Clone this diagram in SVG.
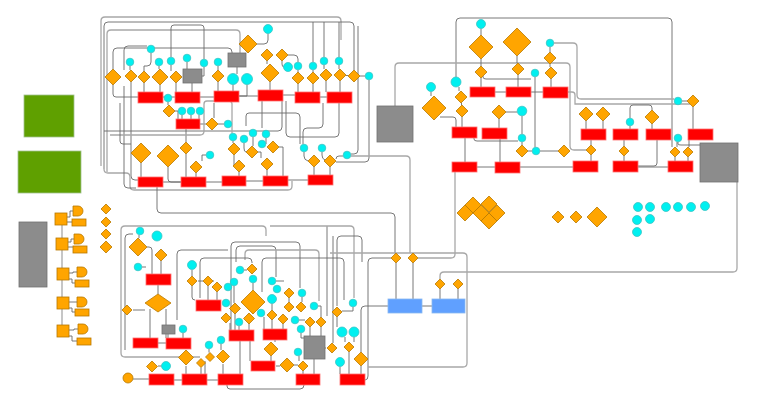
<svg xmlns="http://www.w3.org/2000/svg" width="764" height="406" viewBox="0 0 764 406">
<style>
.d{fill:#ffa500;stroke:#b87800;stroke-width:0.8}
.c{fill:#00f0f0;stroke:#3cc4c4;stroke-width:0.8}
.r{fill:#ff0000;stroke:#ff7070;stroke-width:0.8}
.g{fill:#8c8c8c;stroke:#707070;stroke-width:0.8}
.gr{fill:#5fa000;stroke:#a0c090;stroke-width:0.8}
.b{fill:#60a0ff;stroke:#8ab8f0;stroke-width:0.8}
.o{fill:#ffa500;stroke:#b87800;stroke-width:0.8}
.e{fill:none;stroke:#6a6a6a;stroke-width:0.9}
.f{fill:none;stroke:#a8a8a8;stroke-width:1.3}
</style>
<rect width="764" height="406" fill="#ffffff"/>
<g id="connectors">
<path class="f" d="M101,166 V21 Q101,17 105,17 H337 Q341,17 341,21 V40" stroke-width="2"/>
<path class="e" d="M104,169 V26 Q104,22 108,22 H350 Q354,22 354,26 V70"/>
<path class="f" d="M107,172 V34 Q107,30 111,30 H236 Q240,30 240,34 V53"/>
<path class="e" d="M113,69 V52 Q113,48 117,48 H228 Q232,48 232,52 V53"/>
<path class="e" d="M124,70 V50 Q124,46 128,46 H147"/>
<path class="e" d="M171,57 V28 Q171,25 174,25 H201 Q204,25 204,28 V59"/>
<path class="e" d="M151,53 V62 Q151,66 147,66 H144 V71"/>
<path class="e" d="M130,66 V70 M159,66 V69 M171,65 V71 M187,62 V69 M204,67 V76 H202 M218,66 V70 M237,67 V74"/>
<path class="e" d="M268,33.5 V40 Q268,44 264,44 H257 M267,61 V64 M282,61 V64 Q282,67 284,67"/>
<path class="e" d="M113,85 V94 Q113,97 116,97 H138 M131,82 V176 Q131,180 135,180 H138"/>
<path class="e" d="M144,83 V92 M160,85 V92 M176,83 V92 M192,83 V92 M218,82 V91 M233,84.5 V91 M247,84.5 V96 H239 M270,82 V90"/>
<path class="e" d="M298,84 V92 M313,84 V92 M326,81 V92 M340,81 V92 M346,75.5 H348 M360,76 H365"/>
<path class="e" d="M298,70 V72 M313,70 V72 M324,65 V69 M339,65 V69 M313,62 V22 M324,57 V22 M339,57 V22 M298,62 V59 Q298,55 294,55 H288"/>
<path class="e" d="M163,97 H175 M200,97 H214 M239,96 H258 M320,97 H327 M282,95 H295"/>
<path class="e" d="M168,102 V105 M175,111 H178 V119 M182,115 V119 M191,115 V119 M199,115 V119 M206,124 H200 M224,124 H218"/>
<path class="e" d="M186,129 V142 M186,154 V177 M141,163 V177 M168,167 V179 Q168,182 171,182 H181 M196,173 V177 M206,155 H202 V161"/>
<path class="e" d="M233,141 V143 M234,155 V166 M239,172 V176 M253,137 V146 M244,143 V148 Q244,152 246,152 M266,138 V144 M258,152 H261 V158 M267,170 V176 M279,147 H283 V176"/>
<path class="e" d="M163,182 H181 M206,182 H222 M246,181 H263 M288,180 H308"/>
<path class="e" d="M314,167 V175 M330,167 V175 M304,152 V156 Q304,160 308,161 M322,152 V155 Q322,159 325,160 M343,156 H339 Q336,156 336,159"/>
<path class="e" d="M323,103 V124 Q323,128 319,128 H307 Q303,128 303,132 V144"/>
<path class="e" d="M339,103 V133 Q339,137 335,137 H290 Q286,137 286,133 V101"/>
<path class="e" d="M358,26 V150 Q358,154 354,154 H351"/>
<path class="e" d="M369,80 V158 Q369,162 365,162 H336"/>
<path class="f" d="M104,169 Q104,173 108,173 H126 Q130,173 130,177 V186 Q130,190 134,190 H288 Q292,190 292,186 V181"/>
<path class="e" d="M124,86 V184 Q124,188 128,188 H136"/>
<path class="e" d="M104,131 H278 Q282,131 282,127 V101"/>
<path class="f" d="M110,135 H200 Q204,135 204,131 V104 Q204,101 207,101 H228 Q232,101 232,104 V133"/>
<path class="e" d="M120,103 V141 Q120,144 123,144 H131"/>
<path class="e" d="M214,103 V118 M262,101 V128"/>
<path class="e" d="M246,126 V116 Q246,113 249,113 H296 Q300,113 300,117 V144"/>
<path class="e" d="M157,187 V209 Q157,213 161,213 H391 Q395,213 395,217 V253"/>
<path class="f" d="M351,156 H406 Q410,156 410,160 V253"/>
<path class="e" d="M456,77 V22 Q456,18 460,18 H668 Q672,18 672,22 V147"/>
<path class="f" d="M395,106 V67 Q395,63 399,63 H566 Q570,63 570,67 V146 Q570,150 574,150 H586"/>
<path class="f" d="M554,43 H573 Q577,43 577,47 V95 Q577,99 581,99 H674"/>
<path class="f" d="M568,92 H572 Q575,92 575,95 V104 H690"/>
<path class="e" d="M440,117 H453 Q456,117 456,120 V127"/>
<path class="e" d="M459,87 V91 M461.5,103 V105 M462,117 V127 M465,138 V162 M500,139 V162 M499,119 V128 M506,112 H517 M522,116 V134"/>
<path class="e" d="M474,138 V139 Q474,141 477,141 H518 M522,142 V145 M528,151 H532 M540,151 H558 M535,77 V147"/>
<path class="e" d="M483,76 V77 Q483,79 486,79 H531"/>
<path class="e" d="M481,28.5 V35 M481,59 V66 M481,78 V87 M517,56 V63 M518,75 V87 M550,47 V52 M550,64 V67 M551,79 V87 M431,91.5 V96"/>
<path class="e" d="M495,92 H506 M531,92 H543 M477,167 H495 M520,167 H573"/>
<path class="f" d="M455,172 V254 Q455,258 451,258 H418"/>
<path class="e" d="M586,121 V129 M603,121 V129 M630,126 V129 M630,118 V108 Q630,105 633,105 H649 Q652,105 652,108 V110 M652,124 V129"/>
<path class="e" d="M682,101 H687 M693,107 V129 M591,140 V145 M591,155 V161 M624,140 V146 M624,156 V161"/>
<path class="e" d="M657,140 V163 Q657,166 654,166 H638 M638,167 H668 M677,142 V147 M675,157 V161 M688,157 V161 M689,140 V147 M678,142 V144 Q678,145 681,145 H700"/>
<path class="f" d="M440,279 V276 Q440,272 444,272 H733 Q737,272 737,268 V182"/>
<path class="f" d="M200,357 H125 Q121,357 121,353 V230 Q121,226 125,226 H262 Q266,226 266,230 V236"/>
<path class="e" d="M125,350 V238 Q125,234 129,234 H133"/>
<path class="e" d="M231,330 V246 Q231,242 235,242 H296 Q300,242 300,246 V288"/>
<path class="e" d="M236,262 V250 Q236,246 240,246 H272 Q276,246 276,250 V277"/>
<path class="f" d="M245,260 V254 Q245,250 249,250 H315 Q319,250 319,254 V301"/>
<path class="e" d="M262,292 V262 Q262,258 266,258 H340 Q344,258 344,262 V300"/>
<path class="e" d="M177,320 V254 Q177,250 181,250 H228"/>
<path class="e" d="M200,298 V262 Q200,258 204,258 H248 Q252,258 252,262 V263"/>
<path class="e" d="M327,226 V316 M333,236 V343"/>
<path class="f" d="M270,226 H350 Q354,226 354,230 V298"/>
<path class="e" d="M337,306 V240 Q337,236 341,236 H358 Q362,236 362,240 V262"/>
<path class="e" d="M139,235 V238 M147,247 H149 Q152,247 152,250 V274 M142,267 H146 M161,261 V274 M158,285 V294 M150,309 V338 M166,309 V338 M133,310 H145"/>
<path class="e" d="M158,343 H166 M168,334 V338 M183,333 V338 M192,270 V276 M192,286 V297 Q192,300 195,300 M208,286 V300 M217,292 V300 M198,281 H203 M213,281 H214"/>
<path class="e" d="M235,313 V330 M230,323 V330 M249,323 V330 M239,326 V330 M253,314 V313 M244,270 H247 M253,283 V290 M234,286 V303"/>
<path class="e" d="M240,341 V374 M250,341 V361 M221,344 V350 M223,364 V374 M205,361 V374 M201,367.5 V374 M186,366 V374 M209,349 V352.5"/>
<path class="e" d="M158,366 H161.5 M133,379 H149 M174,380 H182 M207,380 H218 M276,366 H280 M294,365 H298 M271,356 V361 M275,340 V342"/>
<path class="e" d="M272,320 V329 M283,324 V329 M264,317 V329 M276,281 H284 M289,298 V302 M302,297 V302 M272,303.5 V310 M299,320 H305 M310,327 V336 M321,327 V336 M301,333 V338 H304 M318,306 H321 V317"/>
<path class="e" d="M325,348 H326 M299,356 V361 M303,371 V374 M314,359 V374 M353,307 V311 H342 M345,337 V342 M354,337 V342 M349,352 V374 M340,366.5 V374 M361,366 V374 M337,317 V327"/>
<path class="e" d="M227,374 V386 Q227,389 230,389 H300 Q304,389 304,385"/>
<path class="e" d="M391,258 H372 Q368,258 368,262 V376 Q368,380 365,380"/>
<path class="e" d="M388,306 H365 Q361,306 361,310 V352"/>
<path class="f" d="M330,253 H463 Q467,253 467,257 V363 Q467,367 463,367 H368"/>
<path class="e" d="M396,263 V299 M413,263 V299 M422,306 H432 M440,289 V299 M458,289 V299"/>
<path class="f" d="M62,225 V326"/>
<path class="e" d="M67,217 H70 V211 H73 M67,222 H72 M68,242 H71 V239 H74 M68,247 H73 M69,273 H73 V272 H77 M69,279 H72 V283 H75 M69,302 H74 V302 H77 M69,308 H72 V312 H75 M69,330 H74 V329 H78 M69,336 H72 V341 H77"/>
</g>
<g id="tl-d1"><path class="d" d="M113 69l8 8-8 8-8-8z"/></g>
<g id="tl-d2"><path class="d" d="M131 70l6 6-6 6-6-6z"/></g>
<g id="tl-d3"><path class="d" d="M144 71l6 6-6 6-6-6z"/></g>
<g id="tl-d4"><path class="d" d="M160 69l8 8-8 8-8-8z"/></g>
<g id="tl-d5"><path class="d" d="M176 71l6 6-6 6-6-6z"/></g>
<g id="tl-d6"><path class="d" d="M218 70l6 6-6 6-6-6z"/></g>
<g id="tl-d7"><path class="d" d="M248 35l9 9-9 9-9-9z"/></g>
<g id="tl-d8"><path class="d" d="M267 49l6 6-6 6-6-6z"/></g>
<g id="tl-d9"><path class="d" d="M282 49l6 6-6 6-6-6z"/></g>
<g id="tl-d10"><path class="d" d="M270 64l9 9-9 9-9-9z"/></g>
<g id="tl-d11"><path class="d" d="M298 72l6 6-6 6-6-6z"/></g>
<g id="tl-d12"><path class="d" d="M313 72l6 6-6 6-6-6z"/></g>
<g id="tl-d13"><path class="d" d="M326 69l6 6-6 6-6-6z"/></g>
<g id="tl-d14"><path class="d" d="M340 69l6 6-6 6-6-6z"/></g>
<g id="tl-d15"><path class="d" d="M354 70l6 6-6 6-6-6z"/></g>
<g id="tl-d16"><path class="d" d="M169 105l6 6-6 6-6-6z"/></g>
<g id="tl-d17"><path class="d" d="M212 118l6 6-6 6-6-6z"/></g>
<g id="tl-d18"><path class="d" d="M186 142l6 6-6 6-6-6z"/></g>
<g id="tl-d19"><path class="d" d="M234 143l6 6-6 6-6-6z"/></g>
<g id="tl-d20"><path class="d" d="M252 146l6 6-6 6-6-6z"/></g>
<g id="tl-d21"><path class="d" d="M273 141l6 6-6 6-6-6z"/></g>
<g id="tl-d22"><path class="d" d="M141 143l10 10-10 10-10-10z"/></g>
<g id="tl-d23"><path class="d" d="M168 145l11 11-11 11-11-11z"/></g>
<g id="tl-d24"><path class="d" d="M196 161l6 6-6 6-6-6z"/></g>
<g id="tl-d25"><path class="d" d="M239 160l6 6-6 6-6-6z"/></g>
<g id="tl-d26"><path class="d" d="M267 158l6 6-6 6-6-6z"/></g>
<g id="tl-d27"><path class="d" d="M314 155l6 6-6 6-6-6z"/></g>
<g id="tl-d28"><path class="d" d="M330 155l6 6-6 6-6-6z"/></g>
<g id="tl-c1"><circle class="c" cx="151" cy="49" r="3.8"/></g>
<g id="tl-c2"><circle class="c" cx="130" cy="62" r="3.8"/></g>
<g id="tl-c3"><circle class="c" cx="159" cy="62" r="3.8"/></g>
<g id="tl-c4"><circle class="c" cx="171" cy="61" r="3.8"/></g>
<g id="tl-c5"><circle class="c" cx="187" cy="58" r="3.8"/></g>
<g id="tl-c6"><circle class="c" cx="204" cy="63" r="3.8"/></g>
<g id="tl-c7"><circle class="c" cx="218" cy="62" r="3.8"/></g>
<g id="tl-c8"><circle class="c" cx="233" cy="79" r="5.5"/></g>
<g id="tl-c9"><circle class="c" cx="247" cy="79" r="5.5"/></g>
<g id="tl-c10"><circle class="c" cx="268" cy="29" r="4.5"/></g>
<g id="tl-c11"><circle class="c" cx="288" cy="67" r="4.5"/></g>
<g id="tl-c12"><circle class="c" cx="298" cy="66" r="3.8"/></g>
<g id="tl-c13"><circle class="c" cx="313" cy="66" r="3.8"/></g>
<g id="tl-c14"><circle class="c" cx="324" cy="61" r="3.8"/></g>
<g id="tl-c15"><circle class="c" cx="339" cy="61" r="3.8"/></g>
<g id="tl-c16"><circle class="c" cx="369" cy="76" r="3.8"/></g>
<g id="tl-c17"><circle class="c" cx="168" cy="98" r="3.8"/></g>
<g id="tl-c18"><circle class="c" cx="182" cy="111" r="3.8"/></g>
<g id="tl-c19"><circle class="c" cx="191" cy="111" r="3.8"/></g>
<g id="tl-c20"><circle class="c" cx="200" cy="111" r="3.8"/></g>
<g id="tl-c21"><circle class="c" cx="228" cy="124" r="3.8"/></g>
<g id="tl-c22"><circle class="c" cx="233" cy="137" r="3.8"/></g>
<g id="tl-c23"><circle class="c" cx="244" cy="139" r="3.8"/></g>
<g id="tl-c24"><circle class="c" cx="253" cy="133" r="3.8"/></g>
<g id="tl-c25"><circle class="c" cx="266" cy="134" r="3.8"/></g>
<g id="tl-c26"><circle class="c" cx="262" cy="144" r="3.8"/></g>
<g id="tl-c27"><circle class="c" cx="210" cy="155" r="3.8"/></g>
<g id="tl-c28"><circle class="c" cx="304" cy="148" r="3.8"/></g>
<g id="tl-c29"><circle class="c" cx="322" cy="148" r="3.8"/></g>
<g id="tl-c30"><circle class="c" cx="347" cy="155" r="3.8"/></g>
<g id="tl-g1"><rect class="g" x="183" y="69" width="19" height="14"/></g>
<g id="tl-g2"><rect class="g" x="228" y="53" width="18" height="14"/></g>
<g id="tl-r1"><rect class="r" x="138" y="92" width="25" height="11"/></g>
<g id="tl-r2"><rect class="r" x="175" y="92" width="25" height="11"/></g>
<g id="tl-r3"><rect class="r" x="214" y="91" width="25" height="11"/></g>
<g id="tl-r4"><rect class="r" x="258" y="90" width="25" height="11"/></g>
<g id="tl-r5"><rect class="r" x="295" y="92" width="25" height="11"/></g>
<g id="tl-r6"><rect class="r" x="327" y="92" width="25" height="11"/></g>
<g id="tl-r7"><rect class="r" x="176" y="119" width="24" height="10"/></g>
<g id="tl-r8"><rect class="r" x="138" y="177" width="25" height="10"/></g>
<g id="tl-r9"><rect class="r" x="181" y="177" width="25" height="10"/></g>
<g id="tl-r10"><rect class="r" x="222" y="176" width="24" height="10"/></g>
<g id="tl-r11"><rect class="r" x="263" y="176" width="25" height="10"/></g>
<g id="tl-r12"><rect class="r" x="308" y="175" width="25" height="10"/></g>
<g id="tr-g3"><rect class="g" x="377" y="106" width="36" height="36"/></g>
<g id="tr-d29"><path class="d" d="M434 96l12 12-12 12-12-12z"/></g>
<g id="tr-d30"><path class="d" d="M481 35l12 12-12 12-12-12z"/></g>
<g id="tr-d31"><path class="d" d="M517 28l14 14-14 14-14-14z"/></g>
<g id="tr-d32"><path class="d" d="M550 52l6 6-6 6-6-6z"/></g>
<g id="tr-d33"><path class="d" d="M551 67l6 6-6 6-6-6z"/></g>
<g id="tr-d34"><path class="d" d="M481 66l6 6-6 6-6-6z"/></g>
<g id="tr-d35"><path class="d" d="M518 63l6 6-6 6-6-6z"/></g>
<g id="tr-d36"><path class="d" d="M461 91l6 6-6 6-6-6z"/></g>
<g id="tr-d37"><path class="d" d="M462 105l6 6-6 6-6-6z"/></g>
<g id="tr-d38"><path class="d" d="M499 105l7 7-7 7-7-7z"/></g>
<g id="tr-d39"><path class="d" d="M522 145l6 6-6 6-6-6z"/></g>
<g id="tr-d40"><path class="d" d="M564 145l6 6-6 6-6-6z"/></g>
<g id="tr-d41"><path class="d" d="M693 95l6 6-6 6-6-6z"/></g>
<g id="tr-d42"><path class="d" d="M586 107l7 7-7 7-7-7z"/></g>
<g id="tr-d43"><path class="d" d="M603 107l7 7-7 7-7-7z"/></g>
<g id="tr-d44"><path class="d" d="M652 110l7 7-7 7-7-7z"/></g>
<g id="tr-d45"><path class="d" d="M591 145l5 5-5 5-5-5z"/></g>
<g id="tr-d46"><path class="d" d="M624 146l5 5-5 5-5-5z"/></g>
<g id="tr-d47"><path class="d" d="M675 147l5 5-5 5-5-5z"/></g>
<g id="tr-d48"><path class="d" d="M688 147l5 5-5 5-5-5z"/></g>
<g id="tr-c31"><circle class="c" cx="481" cy="24" r="4.5"/></g>
<g id="tr-c32"><circle class="c" cx="550" cy="43" r="3.8"/></g>
<g id="tr-c33"><circle class="c" cx="535" cy="73" r="3.8"/></g>
<g id="tr-c34"><circle class="c" cx="431" cy="87" r="4.5"/></g>
<g id="tr-c35"><circle class="c" cx="456" cy="82" r="5"/></g>
<g id="tr-c36"><circle class="c" cx="522" cy="111" r="4.8"/></g>
<g id="tr-c37"><circle class="c" cx="522" cy="138" r="3.8"/></g>
<g id="tr-c38"><circle class="c" cx="536" cy="151" r="3.8"/></g>
<g id="tr-c39"><circle class="c" cx="678" cy="101" r="3.8"/></g>
<g id="tr-c40"><circle class="c" cx="630" cy="122" r="3.8"/></g>
<g id="tr-c41"><circle class="c" cx="678" cy="138" r="3.8"/></g>
<g id="tr-r13"><rect class="r" x="470" y="87" width="25" height="10"/></g>
<g id="tr-r14"><rect class="r" x="506" y="87" width="25" height="10"/></g>
<g id="tr-r15"><rect class="r" x="543" y="87" width="25" height="11"/></g>
<g id="tr-r16"><rect class="r" x="452" y="127" width="25" height="11"/></g>
<g id="tr-r17"><rect class="r" x="482" y="128" width="25" height="11"/></g>
<g id="tr-r18"><rect class="r" x="452" y="162" width="25" height="10"/></g>
<g id="tr-r19"><rect class="r" x="495" y="162" width="25" height="11"/></g>
<g id="tr-r20"><rect class="r" x="573" y="161" width="25" height="11"/></g>
<g id="tr-r21"><rect class="r" x="581" y="129" width="25" height="11"/></g>
<g id="tr-r22"><rect class="r" x="613" y="129" width="25" height="11"/></g>
<g id="tr-r23"><rect class="r" x="646" y="129" width="25" height="11"/></g>
<g id="tr-r24"><rect class="r" x="688" y="129" width="25" height="11"/></g>
<g id="tr-r25"><rect class="r" x="613" y="161" width="25" height="11"/></g>
<g id="tr-r26"><rect class="r" x="668" y="161" width="25" height="11"/></g>
<g id="tr-g4"><rect class="g" x="700" y="143" width="38" height="39"/></g>
<g id="m-d1"><path class="d" d="M473 197l8 8-8 8-8-8z"/></g>
<g id="m-d2"><path class="d" d="M489 196l8 8-8 8-8-8z"/></g>
<g id="m-d3"><path class="d" d="M465 205l8 8-8 8-8-8z"/></g>
<g id="m-d4"><path class="d" d="M481 205l8 8-8 8-8-8z"/></g>
<g id="m-d5"><path class="d" d="M497 205l8 8-8 8-8-8z"/></g>
<g id="m-d6"><path class="d" d="M489 213l8 8-8 8-8-8z"/></g>
<g id="m-d7"><path class="d" d="M558 211l6 6-6 6-6-6z"/></g>
<g id="m-d8"><path class="d" d="M576 211l6 6-6 6-6-6z"/></g>
<g id="m-d9"><path class="d" d="M597 207l10 10-10 10-10-10z"/></g>
<g id="m-c1"><circle class="c" cx="638" cy="207" r="4.5"/></g>
<g id="m-c2"><circle class="c" cx="650" cy="207" r="4.5"/></g>
<g id="m-c3"><circle class="c" cx="666" cy="207" r="4.5"/></g>
<g id="m-c4"><circle class="c" cx="678" cy="207" r="4.5"/></g>
<g id="m-c5"><circle class="c" cx="691" cy="207" r="4.5"/></g>
<g id="m-c6"><circle class="c" cx="705" cy="206" r="4.5"/></g>
<g id="m-c7"><circle class="c" cx="637" cy="220" r="4.5"/></g>
<g id="m-c8"><circle class="c" cx="650" cy="219" r="4.5"/></g>
<g id="m-c9"><circle class="c" cx="637" cy="232" r="4.5"/></g>
<g id="l-green1"><rect class="gr" x="24" y="95" width="50" height="42"/></g>
<g id="l-green2"><rect class="gr" x="18" y="151" width="63" height="42"/></g>
<g id="l-gray"><rect class="g" x="19" y="222" width="28" height="65" fill="#909090"/></g>
<g id="l-d1"><path class="d" d="M106 204l5 5-5 5-5-5z"/></g>
<g id="l-d2"><path class="d" d="M106 217l5 5-5 5-5-5z"/></g>
<g id="l-d3"><path class="d" d="M106 229l5 5-5 5-5-5z"/></g>
<g id="l-d4"><path class="d" d="M106 241l6 6-6 6-6-6z"/></g>
<g id="l-s1"><rect class="o" x="55" y="213" width="12" height="12"/><path class="o" d="M73 206h5a5 5 0 0 1 0 10h-5z"/><rect class="o" x="72" y="219" width="14" height="7"/></g>
<g id="l-s2"><rect class="o" x="56" y="238" width="12" height="12"/><path class="o" d="M74 234h5a5 5 0 0 1 0 10h-5z"/><rect class="o" x="73" y="246" width="14" height="7"/></g>
<g id="l-s3"><rect class="o" x="57" y="268" width="12" height="12"/><path class="o" d="M77 267h5a5 5 0 0 1 0 10h-5z"/><rect class="o" x="75" y="280" width="14" height="7"/></g>
<g id="l-s4"><rect class="o" x="57" y="297" width="12" height="12"/><path class="o" d="M77 297h5a5 5 0 0 1 0 10h-5z"/><rect class="o" x="75" y="309" width="14" height="7"/></g>
<g id="l-s5"><rect class="o" x="57" y="325" width="12" height="12"/><path class="o" d="M78 324h5a5 5 0 0 1 0 10h-5z"/><rect class="o" x="77" y="338" width="14" height="7"/></g>
<g id="bl-d1"><path class="d" d="M138 238l9 9-9 9-9-9z"/></g>
<g id="bl-d2"><path class="d" d="M161 249l6 6-6 6-6-6z"/></g>
<g id="bl-d3"><path class="d" d="M192 276l5 5-5 5-5-5z"/></g>
<g id="bl-d4"><path class="d" d="M208 276l5 5-5 5-5-5z"/></g>
<g id="bl-d5"><path class="d" d="M217 282l5 5-5 5-5-5z"/></g>
<g id="bl-d6"><path class="d" d="M158 294l13 9-13 9-13-9z"/></g>
<g id="bl-d7"><path class="d" d="M127 305l5 5-5 5-5-5z"/></g>
<g id="bl-d8"><path class="d" d="M252 264l5 5-5 5-5-5z"/></g>
<g id="bl-d9"><path class="d" d="M235 303l5.5 5.5-5.5 5.5-5.5-5.5z"/></g>
<g id="bl-d10"><path class="d" d="M226 313l5 5-5 5-5-5z"/></g>
<g id="bl-d11"><path class="d" d="M249 313l5.5 5.5-5.5 5.5-5.5-5.5z"/></g>
<g id="bl-d12"><path class="d" d="M253 290l12 12-12 12-12-12z"/></g>
<g id="bl-d13"><path class="d" d="M186 350l7.5 7.5-7.5 7.5-7.5-7.5z"/></g>
<g id="bl-d14"><path class="d" d="M201 358.5l4.5 4.5-4.5 4.5-4.5-4.5z"/></g>
<g id="bl-d15"><path class="d" d="M210 352.5l4.5 4.5-4.5 4.5-4.5-4.5z"/></g>
<g id="bl-d16"><path class="d" d="M223 350l6.5 6.5-6.5 6.5-6.5-6.5z"/></g>
<g id="bl-d17"><path class="d" d="M152 361l5.5 5.5-5.5 5.5-5.5-5.5z"/></g>
<g id="bl-d18"><path class="d" d="M289 288l5 5-5 5-5-5z"/></g>
<g id="bl-d19"><path class="d" d="M289 302l5 5-5 5-5-5z"/></g>
<g id="bl-d20"><path class="d" d="M301 302l5 5-5 5-5-5z"/></g>
<g id="bl-d21"><path class="d" d="M272 310l5 5-5 5-5-5z"/></g>
<g id="bl-d22"><path class="d" d="M283 314l5 5-5 5-5-5z"/></g>
<g id="bl-d23"><path class="d" d="M310 317l5 5-5 5-5-5z"/></g>
<g id="bl-d24"><path class="d" d="M321 317l5 5-5 5-5-5z"/></g>
<g id="bl-d25"><path class="d" d="M271 342l7 7-7 7-7-7z"/></g>
<g id="bl-d26"><path class="d" d="M287 358l7 7-7 7-7-7z"/></g>
<g id="bl-d27"><path class="d" d="M303 361l5 5-5 5-5-5z"/></g>
<g id="bl-d28"><path class="d" d="M332 343l5 5-5 5-5-5z"/></g>
<g id="bl-d29"><path class="d" d="M337 307l5 5-5 5-5-5z"/></g>
<g id="bl-d30"><path class="d" d="M349 342l5 5-5 5-5-5z"/></g>
<g id="bl-d31"><path class="d" d="M361 352l7 7-7 7-7-7z"/></g>
<g id="bl-c1"><circle class="c" cx="140" cy="231" r="3.8"/></g>
<g id="bl-c2"><circle class="c" cx="157" cy="236" r="5"/></g>
<g id="bl-c3"><circle class="c" cx="138" cy="267" r="3.8"/></g>
<g id="bl-c4"><circle class="c" cx="192" cy="265" r="4.5"/></g>
<g id="bl-c5"><circle class="c" cx="228" cy="287" r="3.8"/></g>
<g id="bl-c6"><circle class="c" cx="234" cy="282" r="3.8"/></g>
<g id="bl-c7"><circle class="c" cx="240" cy="270" r="3.8"/></g>
<g id="bl-c8"><circle class="c" cx="253" cy="279" r="3.8"/></g>
<g id="bl-c9"><circle class="c" cx="226" cy="303" r="3.8"/></g>
<g id="bl-c10"><circle class="c" cx="239" cy="322" r="3.8"/></g>
<g id="bl-c11"><circle class="c" cx="183" cy="329" r="3.8"/></g>
<g id="bl-c12"><circle class="c" cx="221" cy="340" r="3.8"/></g>
<g id="bl-c13"><circle class="c" cx="209" cy="345" r="3.8"/></g>
<g id="bl-c14"><circle class="c" cx="166" cy="366" r="4.5"/></g>
<g id="bl-c15"><circle class="c" cx="272" cy="281" r="3.8"/></g>
<g id="bl-c16"><circle class="c" cx="277" cy="289" r="3.8"/></g>
<g id="bl-c17"><circle class="c" cx="272" cy="299" r="4.5"/></g>
<g id="bl-c18"><circle class="c" cx="302" cy="293" r="3.8"/></g>
<g id="bl-c19"><circle class="c" cx="261" cy="313" r="3.8"/></g>
<g id="bl-c20"><circle class="c" cx="295" cy="320" r="3.8"/></g>
<g id="bl-c21"><circle class="c" cx="301" cy="329" r="3.8"/></g>
<g id="bl-c22"><circle class="c" cx="314" cy="306" r="3.8"/></g>
<g id="bl-c23"><circle class="c" cx="298" cy="352" r="3.8"/></g>
<g id="bl-c24"><circle class="c" cx="353" cy="303" r="3.8"/></g>
<g id="bl-c25"><circle class="c" cx="342" cy="332" r="5"/></g>
<g id="bl-c26"><circle class="c" cx="354" cy="332" r="5"/></g>
<g id="bl-c27"><circle class="c" cx="340" cy="362" r="4.5"/></g>
<g id="bl-o1"><circle class="o" cx="128" cy="378" r="5"/></g>
<g id="bl-g1"><rect class="g" x="162" y="325" width="13" height="9"/></g>
<g id="bl-g2"><rect class="g" x="304" y="336" width="21" height="23"/></g>
<g id="bl-r1"><rect class="r" x="146" y="274" width="25" height="11"/></g>
<g id="bl-r2"><rect class="r" x="196" y="300" width="25" height="11"/></g>
<g id="bl-r3"><rect class="r" x="229" y="330" width="25" height="11"/></g>
<g id="bl-r4"><rect class="r" x="133" y="338" width="25" height="10"/></g>
<g id="bl-r5"><rect class="r" x="166" y="338" width="25" height="11"/></g>
<g id="bl-r6"><rect class="r" x="263" y="329" width="24" height="11"/></g>
<g id="bl-r7"><rect class="r" x="251" y="361" width="24" height="10"/></g>
<g id="bl-r8"><rect class="r" x="149" y="374" width="25" height="11"/></g>
<g id="bl-r9"><rect class="r" x="182" y="374" width="25" height="11"/></g>
<g id="bl-r10"><rect class="r" x="218" y="374" width="25" height="11"/></g>
<g id="bl-r11"><rect class="r" x="296" y="374" width="24" height="11"/></g>
<g id="bl-r12"><rect class="r" x="340" y="374" width="25" height="11"/></g>
<g id="bl-d32"><path class="d" d="M396 253l5 5-5 5-5-5z"/></g>
<g id="bl-d33"><path class="d" d="M413 253l5 5-5 5-5-5z"/></g>
<g id="bl-d34"><path class="d" d="M440 279l5 5-5 5-5-5z"/></g>
<g id="bl-d35"><path class="d" d="M458 279l5 5-5 5-5-5z"/></g>
<g id="bl-b1"><rect class="b" x="388" y="299" width="34" height="14"/></g>
<g id="bl-b2"><rect class="b" x="432" y="299" width="33" height="14"/></g>
</svg>
